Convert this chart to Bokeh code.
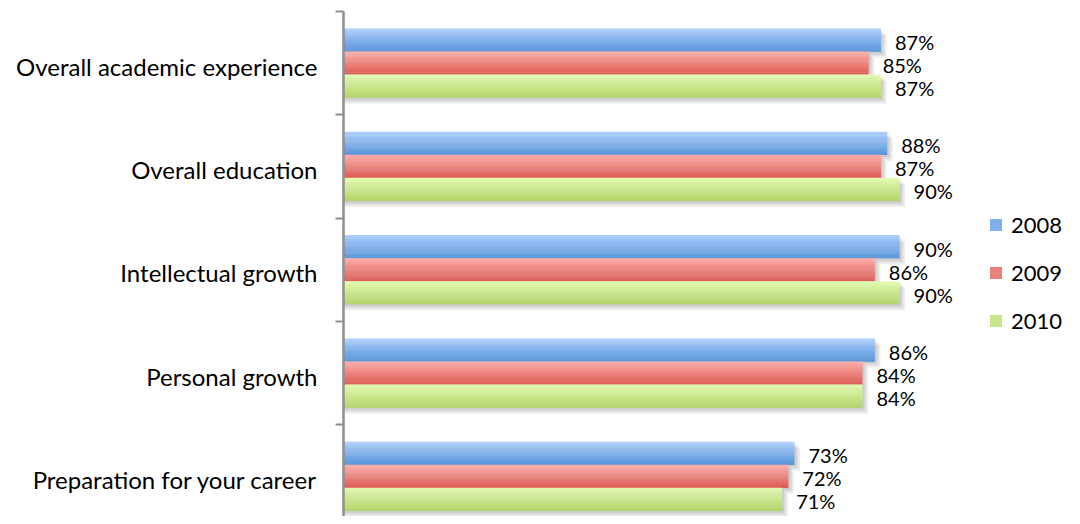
import numpy as np
from bokeh.plotting import figure
from bokeh.models import Range1d, FixedTicker, Legend, LegendItem, ColumnDataSource
from bokeh.core.properties import value
from bokeh.embed import file_html
from bokeh.resources import INLINE

categories = ["Overall academic experience", "Overall education", "Intellectual growth",
              "Personal growth", "Preparation for your career"]
years = ["2008", "2009", "2010"]
v2008 = [87, 88, 90, 86, 73]
v2009 = [85, 87, 86, 84, 72]
v2010 = [87, 90, 90, 84, 71]
series = [v2008, v2009, v2010]
grad = [("#aacdfc", "#5a97dc"), ("#fcaba9", "#de5e56"), ("#e2fab0", "#b3d66a")]

BAR_H = 0.2227
NSTRIP = 12
PX = 1.0 / 103.3  # one pixel in category units

def mix(c1, c2, t):
    a = [int(c1[i:i + 2], 16) for i in (1, 3, 5)]
    b = [int(c2[i:i + 2], 16) for i in (1, 3, 5)]
    return "#%02x%02x%02x" % tuple(int(round(a[k] + (b[k] - a[k]) * t)) for k in range(3))

p = figure(width=1064, height=516, output_backend="svg", toolbar_location=None,
           x_range=Range1d(0, 116.7), y_range=Range1d(4.389, -0.5),
           x_axis_location=None, min_border_left=343, min_border_right=0,
           min_border_top=11, min_border_bottom=0)
p.outline_line_color = None
p.grid.visible = False
p.background_fill_color = "white"

idx = np.arange(len(categories))

# soft shadow
for k in range(1, 4):
    for j, vals in enumerate(series):
        ys = idx + (j - 1) * BAR_H + k * 2.0 * PX
        p.hbar(y=ys, left=0, right=np.array(vals) + k * 0.3, height=BAR_H,
               fill_color="#000000", fill_alpha=0.07, line_color=None)

legend_items = []
for j, vals in enumerate(series):
    mid_r = None
    for s in range(NSTRIP):
        t = s / (NSTRIP - 1)
        col = mix(grad[j][0], grad[j][1], t)
        ys = idx + (j - 1) * BAR_H - BAR_H / 2 + (s + 0.5) * BAR_H / NSTRIP
        r = p.hbar(y=ys, left=0, right=vals, height=BAR_H / NSTRIP + 0.002,
                   fill_color=col, line_color=None)
        if s == NSTRIP // 2:
            mid_r = r
    legend_items.append(LegendItem(label=years[j], renderers=[mid_r]))

    src = ColumnDataSource(dict(x=vals, y=idx + (j - 1) * BAR_H,
                                t=["%d%%" % v for v in vals]))
    p.text(x="x", y="y", text="t", source=src, x_offset=14, y_offset=2,
           text_baseline="middle", text_align="left", text_font=value("Lato"),
           text_font_size="20px", text_color="#000000")

ax = p.yaxis[0]
ax.ticker = FixedTicker(ticks=[i + 3 * PX for i in range(len(categories))],
                        minor_ticks=[i - 0.5 for i in range(len(categories) + 1)])
ax.major_label_overrides = {i + 3 * PX: c for i, c in enumerate(categories)}
ax.major_tick_line_color = None
ax.major_tick_out = 0
ax.major_tick_in = 0
ax.minor_tick_line_color = "#8e8e8e"
ax.minor_tick_line_width = 2
ax.minor_tick_out = 8
ax.minor_tick_in = 0
ax.axis_line_color = "#8e8e8e"
ax.axis_line_width = 2.5
ax.major_label_text_font = "Lato"
ax.major_label_text_font_size = "24px"
ax.major_label_text_color = "#000000"
ax.major_label_standoff = 18

legend = Legend(items=legend_items, location=(645, 182), padding=0, margin=0,
                spacing=21, glyph_width=15, glyph_height=15, label_height=21,
                label_standoff=8, label_text_font="Lato", label_text_font_size="22px",
                label_text_color="#000000", border_line_color=None,
                background_fill_alpha=0)
p.add_layout(legend)

open("out.html", "w").write(file_html(p, INLINE))
